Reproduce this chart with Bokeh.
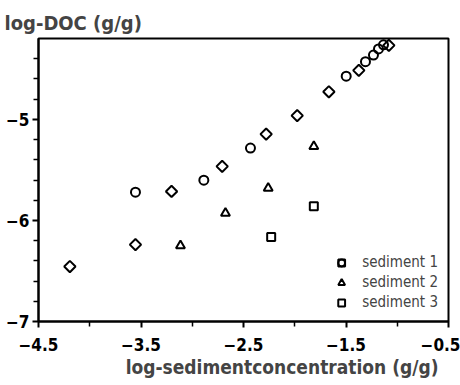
from bokeh.plotting import figure
from bokeh.models import Range1d, FixedTicker, Legend, LegendItem, Title
from bokeh.embed import file_html
from bokeh.resources import INLINE

# sediment 1 (two series: circles and diamonds)
s1_circle_x = [-3.554, -2.887, -2.432, -1.498, -1.310, -1.232, -1.183, -1.134]
s1_circle_y = [-5.721, -5.602, -5.284, -4.573, -4.429, -4.364, -4.303, -4.263]
s1_diamond_x = [-4.194, -3.554, -3.202, -2.708, -2.279, -1.976, -1.667, -1.375, -1.082]
s1_diamond_y = [-6.456, -6.239, -5.713, -5.465, -5.146, -4.963, -4.727, -4.515, -4.268]
# sediment 2
s2_x = [-3.115, -2.676, -2.259, -1.814]
s2_y = [-6.249, -5.929, -5.681, -5.267]
# sediment 3
s3_x = [-2.230, -1.814]
s3_y = [-6.164, -5.859]

x_ticks = [-4.5, -3.5, -2.5, -1.5, -0.5]
x_minor = [-4.0, -3.0, -2.0, -1.0]
y_ticks = [-7, -6, -5]
y_minor = [-6.8, -6.6, -6.4, -6.2, -5.8, -5.6, -5.4, -5.2, -4.8, -4.6, -4.4]

FONT = "DejaVu Sans Condensed"

p = figure(width=460, height=385, output_backend="svg", toolbar_location=None,
           x_range=Range1d(-4.5, -0.5), y_range=Range1d(-7, -4.2),
           min_border_left=38, min_border_right=12, min_border_top=38, min_border_bottom=64)
p.grid.visible = False
p.outline_line_color = "black"
p.outline_line_width = 2
p.background_fill_color = "white"
p.border_fill_color = "white"

p.title.text = "log-DOC (g/g)"
p.title.align = "left"
p.title.offset = -34
p.title.text_font = FONT
p.title.text_font_size = "20px"
p.title.text_font_style = "bold"
p.title.standoff = 8

for ax in (p.xaxis[0], p.yaxis[0]):
    ax.axis_line_width = 2
    ax.major_tick_line_width = 2
    ax.minor_tick_line_width = 1.5
    ax.major_tick_in = 0
    ax.major_tick_out = 6
    ax.minor_tick_in = 0
    ax.minor_tick_out = 5
    ax.major_label_text_font = FONT
    ax.major_label_text_font_size = "17px"
    ax.major_label_text_font_style = "bold"
    ax.major_label_text_color = "black"

p.xaxis[0].ticker = FixedTicker(ticks=x_ticks, minor_ticks=x_minor)
p.yaxis[0].ticker = FixedTicker(ticks=y_ticks, minor_ticks=y_minor)
p.xaxis[0].major_label_standoff = 10
p.yaxis[0].major_label_standoff = 3

xt = Title(text="log-sedimentconcentration (g/g)", align="right", offset=10,
           text_font=FONT, text_font_size="19px", text_font_style="bold", standoff=0)
p.add_layout(xt, "below")

kw = dict(fill_color=None, line_color="black", line_width=2)
rc = p.scatter(s1_circle_x, s1_circle_y, marker="circle", size=9, **kw)
rd = p.scatter(s1_diamond_x, s1_diamond_y, marker="square", size=8, angle=0.785398, **kw)
rt = p.scatter(s2_x, s2_y, marker="triangle", size=9, **kw)
rs = p.scatter(s3_x, s3_y, marker="square", size=8, **kw)

legend = Legend(items=[LegendItem(label="sediment 1", renderers=[rc, rd]),
                       LegendItem(label="sediment 2", renderers=[rt]),
                       LegendItem(label="sediment 3", renderers=[rs])],
                location="bottom_right", border_line_alpha=0, background_fill_alpha=0,
                label_text_font=FONT, label_text_font_size="15px", label_text_font_style="normal",
                glyph_width=18, glyph_height=17, label_height=17, spacing=2,
                label_standoff=12, padding=4, margin=6)
p.add_layout(legend)

open("out.html", "w").write(file_html(p, INLINE))
